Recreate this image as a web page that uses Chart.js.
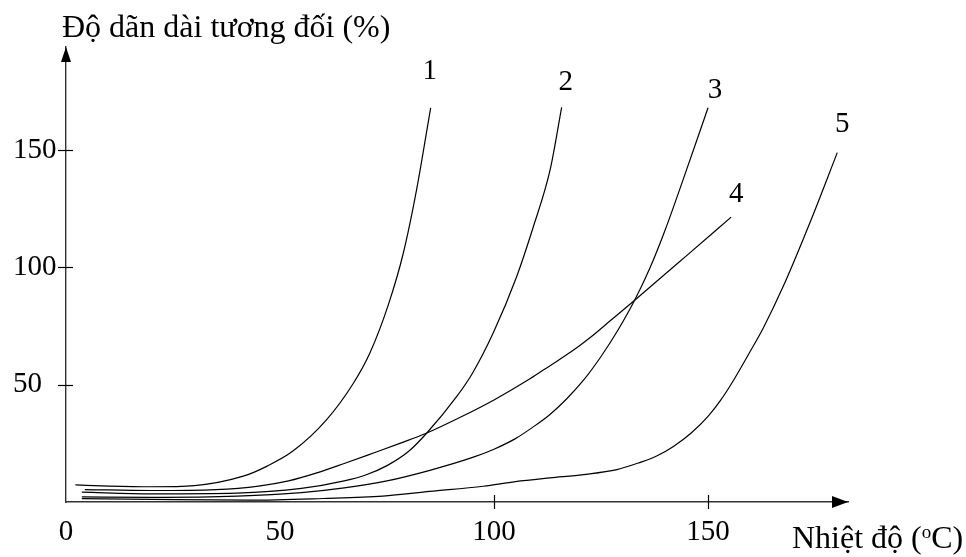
<!DOCTYPE html>
<html><head><meta charset="utf-8">
<script src="https://cdn.jsdelivr.net/npm/chart.js@4.4.0/dist/chart.umd.min.js"></script>
<style>html,body{margin:0;padding:0;background:#fff;} canvas{display:block;}</style>
</head><body>
<canvas id="c" width="966" height="557"></canvas>
<script>
// ---- data ----
const curveNames = ['1', '2', '3', '4', '5'];

const temp1 = [2.2, 10, 20, 30, 41.4, 47, 53.1, 60.9, 67.1, 71, 75.3, 78.8, 81.9, 85.2];
const elong1 = [7.3, 6.8, 6.5, 7.0, 11.0, 15.3, 21.8, 35.1, 50.5, 63.5, 84, 106, 133, 168];

const temp2 = [3.7, 20, 40, 55, 65, 70, 75, 80, 84.3, 91.3, 95, 99.8, 105.3, 109.2, 113.1, 115.8];
const elong2 = [4.2, 3.5, 3.8, 5.8, 9, 11.5, 15.5, 21.5, 29.4, 45, 55, 72, 96.1, 117.4, 141.5, 168.2];

const temp3 = [3.7, 20, 40, 55, 65, 75, 85, 95, 100, 105, 109, 113, 117, 121, 125, 129, 133, 136.5, 140, 144.2, 150];
const elong3 = [2.2, 2.0, 2.5, 4, 6, 9, 13.5, 19, 22.5, 27, 31.8, 37.2, 44, 52.1, 62, 73.4, 86.5, 100, 116, 137.5, 168];

const temp4 = [4.4, 20, 35, 45, 52, 58.6, 65, 72, 78, 84.3, 92, 100, 108.4, 113, 118, 122.4, 127, 133, 145, 155.4];
const elong4 = [5.3, 4.9, 5.3, 6.8, 9, 12.4, 16.4, 21, 25, 29.4, 36, 43.5, 52.5, 58, 64, 70, 77, 86.2, 105, 121.4];

const temp5 = [3.7, 20, 43, 60, 74, 85, 97.5, 105, 113.1, 120.9, 128.7, 134, 138, 142, 146, 150, 153, 156, 159.8, 163, 167.6, 173.8, 180.2];
const elong5 = [1.4, 1.1, 0.8, 1.5, 2.5, 4.5, 6.7, 8.7, 10.3, 11.7, 13.8, 16.8, 19.6, 23.8, 29.3, 36.5, 43.5, 52, 64, 74.5, 92, 119, 148.9];

const xTickLabels = [0, 50, 100, 150];
const xTickMarks = [100, 150];
const yTickLabels = [50, 100, 150];

const yTitle = 'Độ dãn dài tương đối (%)';
const xTitleMain = 'Nhiệt độ (';
const xTitleSup = 'o';
const xTitleEnd = 'C)';

// ---- build datasets ----
const temps = [temp1, temp2, temp3, temp4, temp5];
const elongs = [elong1, elong2, elong3, elong4, elong5];
const labelOffsets = [[-1, -36], [4, -25], [7, -17], [5, -23], [5, -28]];

const datasets = curveNames.map((n, i) => ({
  label: n,
  data: temps[i].map((t, k) => ({x: t, y: elongs[i][k]})),
  borderColor: '#000',
  borderWidth: 1.2,
  pointRadius: 0,
  fill: false,
  cubicInterpolationMode: 'monotone'
}));

const FONT = '"Liberation Serif", "Times New Roman", serif';

const deco = {
  id: 'deco',
  afterDraw(chart) {
    const {ctx, chartArea: a, scales: {x, y}} = chart;
    ctx.save();
    ctx.strokeStyle = '#000';
    ctx.fillStyle = '#000';
    ctx.lineWidth = 1.2;
    yTickLabels.forEach(v => {
      const py = Math.round(y.getPixelForValue(v)) + 0.5;
      ctx.beginPath(); ctx.moveTo(a.left - 8, py); ctx.lineTo(a.left + 7, py); ctx.stroke();
    });
    xTickMarks.forEach(v => {
      const px = Math.round(x.getPixelForValue(v)) + 0.5;
      ctx.beginPath(); ctx.moveTo(px, a.bottom - 7); ctx.lineTo(px, a.bottom + 7); ctx.stroke();
    });
    // arrowheads
    ctx.beginPath();
    ctx.moveTo(a.left, a.top); ctx.lineTo(a.left - 5, a.top + 15); ctx.lineTo(a.left + 5, a.top + 15);
    ctx.closePath(); ctx.fill();
    ctx.beginPath();
    ctx.moveTo(a.right, a.bottom); ctx.lineTo(a.right - 16, a.bottom - 6); ctx.lineTo(a.right - 16, a.bottom + 6);
    ctx.closePath(); ctx.fill();
    // axis titles
    ctx.font = '32px ' + FONT;
    ctx.textAlign = 'left';
    ctx.textBaseline = 'alphabetic';
    ctx.fillText(yTitle, 62, 37);
    let xx = 792;
    ctx.fillText(xTitleMain, xx, 548);
    xx += ctx.measureText(xTitleMain).width;
    ctx.font = '19px ' + FONT;
    ctx.fillText(xTitleSup, xx, 538);
    xx += ctx.measureText(xTitleSup).width;
    ctx.font = '32px ' + FONT;
    ctx.fillText(xTitleEnd, xx, 548);
    // curve labels
    ctx.font = '29px ' + FONT;
    ctx.textAlign = 'center';
    ctx.textBaseline = 'middle';
    chart.data.datasets.forEach((ds, i) => {
      const last = ds.data[ds.data.length - 1];
      const px = x.getPixelForValue(last.x) + labelOffsets[i][0];
      const py = y.getPixelForValue(last.y) + labelOffsets[i][1];
      ctx.fillText(ds.label, px, py);
    });
    ctx.restore();
  }
};

new Chart(document.getElementById('c'), {
  type: 'line',
  data: {datasets},
  options: {
    responsive: false,
    animation: false,
    devicePixelRatio: 1,
    layout: {padding: {left: 13, top: 47, right: 118, bottom: 0}},
    plugins: {legend: {display: false}, tooltip: {enabled: false}, title: {display: false}},
    scales: {
      x: {
        type: 'linear',
        min: 0, max: 182.7,
        afterBuildTicks: s => { s.ticks = xTickLabels.map(v => ({value: v})); },
        afterFit: s => { s.height = 55; },
        grid: {display: false},
        border: {display: true, color: '#333', width: 1.4},
        ticks: {color: '#000', font: {family: FONT, size: 29}, padding: 5, maxRotation: 0, autoSkip: false}
      },
      y: {
        type: 'linear',
        min: 0, max: 193.9,
        afterBuildTicks: s => { s.ticks = yTickLabels.map(v => ({value: v})); },
        afterFit: s => { s.width = 53; },
        grid: {display: false},
        border: {display: true, color: '#333', width: 1.4},
        ticks: {color: '#000', font: {family: FONT, size: 29}, crossAlign: 'far', padding: 10}
      }
    }
  },
  plugins: [deco]
});
</script>
</body></html>
